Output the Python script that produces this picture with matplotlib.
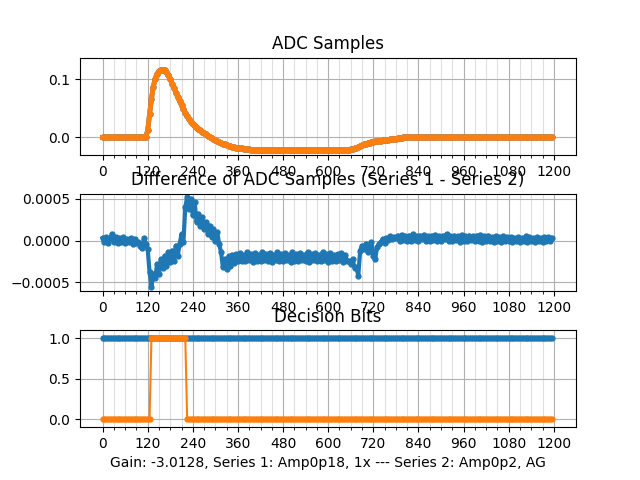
import numpy as np
import matplotlib
matplotlib.use("Agg")
import matplotlib.pyplot as plt
from matplotlib.ticker import FixedLocator

# Values, one value every 5 samples (0 .. 1195)
step = 5

# ADC samples (series 1 and 2 overlap at this scale)
adc_series1 = ([0.0] * 23 +
               [0.001, 0.012, 0.040, 0.066, 0.087, 0.101, 0.109, 0.114, 0.116, 0.116,
                0.115, 0.112, 0.107, 0.100, 0.092, 0.085, 0.077, 0.069, 0.062, 0.055,
                0.048, 0.042, 0.037, 0.032, 0.027, 0.023, 0.019, 0.016, 0.014, 0.012,
                0.010, 0.007, 0.005, 0.003, 0.001, -0.001, -0.003, -0.005, -0.006, -0.008,
                -0.009, -0.011, -0.012, -0.013, -0.014, -0.015, -0.016, -0.017, -0.0175, -0.018,
                -0.0185, -0.019, -0.0195, -0.020, -0.0203, -0.0206, -0.0208, -0.021] +
               [-0.021] * 50 +
               [-0.021, -0.0205, -0.020, -0.019, -0.0178, -0.0165, -0.015, -0.0135, -0.012, -0.011,
                -0.010, -0.009, -0.008, -0.0075, -0.007, -0.0065, -0.006, -0.0055, -0.005, -0.0047,
                -0.0043, -0.004, -0.0035, -0.003, -0.0025, -0.002, -0.0015, -0.001, -0.0005] +
               [0.0] * 80)
adc_series2 = list(adc_series1)

# Difference series 1 - series 2, in units of 1e-5
diff_e5 = ([3, -2, 4, -3, 2, 8, -2, 4, -3, 3, -2, 4, -3, 2, -2, 3, -4, 2, -3, -2, -6, -9, 3, -4] +
           [-10, -38, -55, -40, -45, -28, -40, -22, -33, -18, -30, -14, -26, -12, -24,
            -6, -18, -4, 8, -2, 40, 52, 38, 50, 30, 46, 22, 32, 18, 28,
            14, 22, 8, 18, 4, 14, 0, 10, -4, -14, -32, -22, -34, -19, -30,
            -17, -27, -16, -25] +
           [-15, -25, -17, -24, -14, -23, -16, -26, -15, -24,
            -17, -25, -14, -23, -16, -24, -15, -26, -17, -23,
            -14, -25, -16, -24, -15, -23, -17, -26, -14, -24,
            -16, -25, -15, -23, -17, -24, -14, -26, -16, -23,
            -15, -25, -17, -24, -14, -23, -16, -26, -15, -24,
            -17, -25, -16, -23, -15, -26, -17, -24] +
           [-25, -28, -22, -33, -32, -42, -12, -6, -10, -4, -14, -8, -2, -18, -22,
            -8, -4, -2, 2, -3, 3, 1, 5, 2, 4, 3] +
           [6, -1, 7, 1, 5, -1, 6, 0, 8, 1,
            5, -1, 6, 2, 7, 0, 5, -1, 6, 1,
            7, 0, 5, -1, 6, 2, 8, 0, 5, -1,
            6, 1, 5, -2, 7, 0, 5, -1, 6, 1,
            5, -1, 6, 0, 7, -2, 5, 0, 6, -1,
            4, -2, 5, 0, 4, -2, 5, -1, 4, 0,
            4, -2, 3, -1, 4, -2, 3, -1, 5, -2,
            4, -1, 3, -2, 4, -1, 3, -2, 4, -1,
            4, -1, 3])

# Decision bits
bits_series1 = [1] * 240
bits_series2 = [0] * 26 + [1] * 19 + [0] * 195

x_ticks = [0, 120, 240, 360, 480, 600, 720, 840, 960, 1080, 1200]
xlabel_text = "Gain: -3.0128, Series 1: Amp0p18, 1x --- Series 2: Amp0p2, AG"

samples = np.arange(len(adc_series1)) * step
diff = np.array(diff_e5) * 1e-5

fig, axes = plt.subplots(3, 1, figsize=(6.4, 4.8), dpi=100)
fig.subplots_adjust(hspace=0.4)

ax = axes[0]
ax.plot(samples, adc_series1, '.-', lw=3.5, ms=7)
ax.plot(samples, adc_series2, '.-', lw=3.5, ms=7)
ax.set_title('ADC Samples')
ax.set_ylim(-0.030, 0.137)

ax = axes[1]
ax.plot(samples, diff, '.-', lw=3, ms=7)
ax.set_title('Difference of ADC Samples (Series 1 - Series 2)')
ax.set_ylim(-0.000604, 0.00056)
ax.set_yticks([-0.0005, 0.0, 0.0005])

ax = axes[2]
ax.plot(samples, bits_series1, '.-', ms=7)
ax.plot(samples, bits_series2, '.-', ms=7)
ax.set_title('Decision Bits')
ax.set_ylim(-0.1, 1.1)
ax.set_xlabel(xlabel_text)

for ax in axes:
    ax.set_xlim(-60, 1259)
    ax.set_xticks(x_ticks)
    ax.xaxis.set_minor_locator(FixedLocator(range(0, 1201, 30)))
    ax.grid(True, which='major')
    ax.grid(True, which='minor', axis='x', alpha=0.4)

plt.savefig('out.png')
